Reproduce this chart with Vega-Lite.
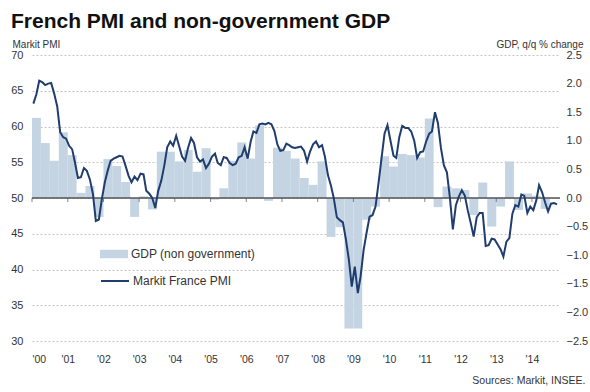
{
  "$schema": "https://vega.github.io/schema/vega-lite/v6.json",
  "width": 528,
  "height": 286,
  "autosize": {"type": "none"},
  "padding": {"left": 32, "top": 55, "right": 30, "bottom": 51},
  "background": "white",
  "config": {
    "font": "Liberation Sans",
    "view": {"stroke": null},
    "axis": {"labelColor": "#333333", "titleColor": "#333333", "titleFontWeight": "normal", "labelFont": "Liberation Sans", "titleFont": "Liberation Sans"},
    "legend": {"labelFont": "Liberation Sans"}
  },
  "title": {
    "text": "French PMI and non-government GDP",
    "anchor": "start",
    "frame": "group",
    "dx": -21,
    "offset": -14,
    "baseline": "bottom",
    "fontSize": 21,
    "fontWeight": "bold",
    "color": "#111111",
    "font": "Liberation Sans"
  },
  "datasets": {
    "gdp": [
      {"date": "2000-01-01", "end": "2000-04-01", "gdp": 1.40},
      {"date": "2000-04-01", "end": "2000-07-01", "gdp": 0.96},
      {"date": "2000-07-01", "end": "2000-10-01", "gdp": 0.65},
      {"date": "2000-10-01", "end": "2001-01-01", "gdp": 1.15},
      {"date": "2001-01-01", "end": "2001-04-01", "gdp": 0.75},
      {"date": "2001-04-01", "end": "2001-07-01", "gdp": 0.09},
      {"date": "2001-07-01", "end": "2001-10-01", "gdp": 0.21},
      {"date": "2001-10-01", "end": "2002-01-01", "gdp": -0.33},
      {"date": "2002-01-01", "end": "2002-04-01", "gdp": 0.68},
      {"date": "2002-04-01", "end": "2002-07-01", "gdp": 0.56},
      {"date": "2002-07-01", "end": "2002-10-01", "gdp": 0.28},
      {"date": "2002-10-01", "end": "2003-01-01", "gdp": -0.33},
      {"date": "2003-01-01", "end": "2003-04-01", "gdp": 0.03},
      {"date": "2003-04-01", "end": "2003-07-01", "gdp": -0.20},
      {"date": "2003-07-01", "end": "2003-10-01", "gdp": 0.81},
      {"date": "2003-10-01", "end": "2004-01-01", "gdp": 0.81},
      {"date": "2004-01-01", "end": "2004-04-01", "gdp": 0.64},
      {"date": "2004-04-01", "end": "2004-07-01", "gdp": 0.84},
      {"date": "2004-07-01", "end": "2004-10-01", "gdp": 0.46},
      {"date": "2004-10-01", "end": "2005-01-01", "gdp": 0.87},
      {"date": "2005-01-01", "end": "2005-04-01", "gdp": -0.03},
      {"date": "2005-04-01", "end": "2005-07-01", "gdp": 0.17},
      {"date": "2005-07-01", "end": "2005-10-01", "gdp": 0.65},
      {"date": "2005-10-01", "end": "2006-01-01", "gdp": 0.97},
      {"date": "2006-01-01", "end": "2006-04-01", "gdp": 0.69},
      {"date": "2006-04-01", "end": "2006-07-01", "gdp": 1.27},
      {"date": "2006-07-01", "end": "2006-10-01", "gdp": -0.05},
      {"date": "2006-10-01", "end": "2007-01-01", "gdp": 0.88},
      {"date": "2007-01-01", "end": "2007-04-01", "gdp": 0.82},
      {"date": "2007-04-01", "end": "2007-07-01", "gdp": 0.69},
      {"date": "2007-07-01", "end": "2007-10-01", "gdp": 0.35},
      {"date": "2007-10-01", "end": "2008-01-01", "gdp": 0.23},
      {"date": "2008-01-01", "end": "2008-04-01", "gdp": 0.64},
      {"date": "2008-04-01", "end": "2008-07-01", "gdp": -0.68},
      {"date": "2008-07-01", "end": "2008-10-01", "gdp": -0.51},
      {"date": "2008-10-01", "end": "2009-01-01", "gdp": -2.28},
      {"date": "2009-01-01", "end": "2009-04-01", "gdp": -2.28},
      {"date": "2009-04-01", "end": "2009-07-01", "gdp": -0.38},
      {"date": "2009-07-01", "end": "2009-10-01", "gdp": -0.15},
      {"date": "2009-10-01", "end": "2010-01-01", "gdp": 0.73},
      {"date": "2010-01-01", "end": "2010-04-01", "gdp": 0.55},
      {"date": "2010-04-01", "end": "2010-07-01", "gdp": 0.77},
      {"date": "2010-07-01", "end": "2010-10-01", "gdp": 0.75},
      {"date": "2010-10-01", "end": "2011-01-01", "gdp": 0.71},
      {"date": "2011-01-01", "end": "2011-04-01", "gdp": 1.39},
      {"date": "2011-04-01", "end": "2011-07-01", "gdp": -0.16},
      {"date": "2011-07-01", "end": "2011-10-01", "gdp": 0.20},
      {"date": "2011-10-01", "end": "2012-01-01", "gdp": 0.17},
      {"date": "2012-01-01", "end": "2012-04-01", "gdp": 0.14},
      {"date": "2012-04-01", "end": "2012-07-01", "gdp": -0.30},
      {"date": "2012-07-01", "end": "2012-10-01", "gdp": 0.27},
      {"date": "2012-10-01", "end": "2013-01-01", "gdp": -0.50},
      {"date": "2013-01-01", "end": "2013-04-01", "gdp": -0.15},
      {"date": "2013-04-01", "end": "2013-07-01", "gdp": 0.64},
      {"date": "2013-07-01", "end": "2013-10-01", "gdp": -0.21},
      {"date": "2013-10-01", "end": "2014-01-01", "gdp": 0.08},
      {"date": "2014-01-01", "end": "2014-04-01", "gdp": 0.04},
      {"date": "2014-04-01", "end": "2014-07-01", "gdp": -0.19}
    ],
    "pmi": [
      {"date": "2000-01-15", "pmi": 63.2}, {"date": "2000-02-15", "pmi": 64.5}, {"date": "2000-03-15", "pmi": 66.4}, {"date": "2000-04-15", "pmi": 66.2},
      {"date": "2000-05-15", "pmi": 65.8}, {"date": "2000-06-15", "pmi": 66.0}, {"date": "2000-07-15", "pmi": 66.1}, {"date": "2000-08-15", "pmi": 64.6},
      {"date": "2000-09-15", "pmi": 62.8}, {"date": "2000-10-15", "pmi": 59.2}, {"date": "2000-11-15", "pmi": 58.5}, {"date": "2000-12-15", "pmi": 58.3},
      {"date": "2001-01-15", "pmi": 57.3}, {"date": "2001-02-15", "pmi": 56.8}, {"date": "2001-03-15", "pmi": 55.0}, {"date": "2001-04-15", "pmi": 52.8},
      {"date": "2001-05-15", "pmi": 52.9}, {"date": "2001-06-15", "pmi": 54.2}, {"date": "2001-07-15", "pmi": 53.8}, {"date": "2001-08-15", "pmi": 52.6},
      {"date": "2001-09-15", "pmi": 50.6}, {"date": "2001-10-15", "pmi": 46.8}, {"date": "2001-11-15", "pmi": 47.0}, {"date": "2001-12-15", "pmi": 49.8},
      {"date": "2002-01-15", "pmi": 52.2}, {"date": "2002-02-15", "pmi": 53.9}, {"date": "2002-03-15", "pmi": 55.2}, {"date": "2002-04-15", "pmi": 55.5},
      {"date": "2002-05-15", "pmi": 55.7}, {"date": "2002-06-15", "pmi": 55.9}, {"date": "2002-07-15", "pmi": 55.8}, {"date": "2002-08-15", "pmi": 54.5},
      {"date": "2002-09-15", "pmi": 53.1}, {"date": "2002-10-15", "pmi": 52.2}, {"date": "2002-11-15", "pmi": 53.0}, {"date": "2002-12-15", "pmi": 52.5},
      {"date": "2003-01-15", "pmi": 53.4}, {"date": "2003-02-15", "pmi": 53.3}, {"date": "2003-03-15", "pmi": 51.0}, {"date": "2003-04-15", "pmi": 50.6},
      {"date": "2003-05-15", "pmi": 50.0}, {"date": "2003-06-15", "pmi": 48.6}, {"date": "2003-07-15", "pmi": 51.0}, {"date": "2003-08-15", "pmi": 52.4},
      {"date": "2003-09-15", "pmi": 54.5}, {"date": "2003-10-15", "pmi": 57.1}, {"date": "2003-11-15", "pmi": 57.9}, {"date": "2003-12-15", "pmi": 57.3},
      {"date": "2004-01-15", "pmi": 58.7}, {"date": "2004-02-15", "pmi": 57.2}, {"date": "2004-03-15", "pmi": 55.8}, {"date": "2004-04-15", "pmi": 55.2},
      {"date": "2004-05-15", "pmi": 57.0}, {"date": "2004-06-15", "pmi": 58.4}, {"date": "2004-07-15", "pmi": 57.7}, {"date": "2004-08-15", "pmi": 55.7},
      {"date": "2004-09-15", "pmi": 55.1}, {"date": "2004-10-15", "pmi": 55.4}, {"date": "2004-11-15", "pmi": 54.2}, {"date": "2004-12-15", "pmi": 54.8},
      {"date": "2005-01-15", "pmi": 55.8}, {"date": "2005-02-15", "pmi": 56.2}, {"date": "2005-03-15", "pmi": 54.9}, {"date": "2005-04-15", "pmi": 54.6},
      {"date": "2005-05-15", "pmi": 55.7}, {"date": "2005-06-15", "pmi": 55.6}, {"date": "2005-07-15", "pmi": 54.9}, {"date": "2005-08-15", "pmi": 54.6},
      {"date": "2005-09-15", "pmi": 54.8}, {"date": "2005-10-15", "pmi": 55.7}, {"date": "2005-11-15", "pmi": 55.9}, {"date": "2005-12-15", "pmi": 57.1},
      {"date": "2006-01-15", "pmi": 55.5}, {"date": "2006-02-15", "pmi": 57.9}, {"date": "2006-03-15", "pmi": 59.3}, {"date": "2006-04-15", "pmi": 59.1},
      {"date": "2006-05-15", "pmi": 60.3}, {"date": "2006-06-15", "pmi": 60.4}, {"date": "2006-07-15", "pmi": 60.3}, {"date": "2006-08-15", "pmi": 60.5},
      {"date": "2006-09-15", "pmi": 60.3}, {"date": "2006-10-15", "pmi": 59.4}, {"date": "2006-11-15", "pmi": 57.5}, {"date": "2006-12-15", "pmi": 56.6},
      {"date": "2007-01-15", "pmi": 56.7}, {"date": "2007-02-15", "pmi": 57.6}, {"date": "2007-03-15", "pmi": 57.4}, {"date": "2007-04-15", "pmi": 57.1},
      {"date": "2007-05-15", "pmi": 57.0}, {"date": "2007-06-15", "pmi": 57.1}, {"date": "2007-07-15", "pmi": 57.2}, {"date": "2007-08-15", "pmi": 56.6},
      {"date": "2007-09-15", "pmi": 55.1}, {"date": "2007-10-15", "pmi": 56.5}, {"date": "2007-11-15", "pmi": 57.5}, {"date": "2007-12-15", "pmi": 57.9},
      {"date": "2008-01-15", "pmi": 57.1}, {"date": "2008-02-15", "pmi": 57.4}, {"date": "2008-03-15", "pmi": 55.8}, {"date": "2008-04-15", "pmi": 53.2},
      {"date": "2008-05-15", "pmi": 51.8}, {"date": "2008-06-15", "pmi": 49.9}, {"date": "2008-07-15", "pmi": 47.3}, {"date": "2008-08-15", "pmi": 46.9},
      {"date": "2008-09-15", "pmi": 46.6}, {"date": "2008-10-15", "pmi": 44.3}, {"date": "2008-11-15", "pmi": 41.4}, {"date": "2008-12-15", "pmi": 37.6},
      {"date": "2009-01-15", "pmi": 40.4}, {"date": "2009-02-15", "pmi": 36.7}, {"date": "2009-03-15", "pmi": 39.0}, {"date": "2009-04-15", "pmi": 42.7},
      {"date": "2009-05-15", "pmi": 45.1}, {"date": "2009-06-15", "pmi": 47.4}, {"date": "2009-07-15", "pmi": 47.6}, {"date": "2009-08-15", "pmi": 48.8},
      {"date": "2009-09-15", "pmi": 52.1}, {"date": "2009-10-15", "pmi": 55.5}, {"date": "2009-11-15", "pmi": 59.0}, {"date": "2009-12-15", "pmi": 60.2},
      {"date": "2010-01-15", "pmi": 58.0}, {"date": "2010-02-15", "pmi": 55.9}, {"date": "2010-03-15", "pmi": 55.6}, {"date": "2010-04-15", "pmi": 58.5},
      {"date": "2010-05-15", "pmi": 60.1}, {"date": "2010-06-15", "pmi": 59.8}, {"date": "2010-07-15", "pmi": 59.8}, {"date": "2010-08-15", "pmi": 59.3},
      {"date": "2010-09-15", "pmi": 58.0}, {"date": "2010-10-15", "pmi": 55.6}, {"date": "2010-11-15", "pmi": 56.4}, {"date": "2010-12-15", "pmi": 56.5},
      {"date": "2011-01-15", "pmi": 57.9}, {"date": "2011-02-15", "pmi": 59.0}, {"date": "2011-03-15", "pmi": 59.3}, {"date": "2011-04-15", "pmi": 62.0},
      {"date": "2011-05-15", "pmi": 60.5}, {"date": "2011-06-15", "pmi": 57.0}, {"date": "2011-07-15", "pmi": 54.6}, {"date": "2011-08-15", "pmi": 53.6},
      {"date": "2011-09-15", "pmi": 50.0}, {"date": "2011-10-15", "pmi": 45.6}, {"date": "2011-11-15", "pmi": 49.0}, {"date": "2011-12-15", "pmi": 50.2},
      {"date": "2012-01-15", "pmi": 51.1}, {"date": "2012-02-15", "pmi": 50.3}, {"date": "2012-03-15", "pmi": 48.3}, {"date": "2012-04-15", "pmi": 46.5},
      {"date": "2012-05-15", "pmi": 44.6}, {"date": "2012-06-15", "pmi": 47.3}, {"date": "2012-07-15", "pmi": 47.9}, {"date": "2012-08-15", "pmi": 47.9},
      {"date": "2012-09-15", "pmi": 43.3}, {"date": "2012-10-15", "pmi": 43.4}, {"date": "2012-11-15", "pmi": 44.3}, {"date": "2012-12-15", "pmi": 44.2},
      {"date": "2013-01-15", "pmi": 43.5}, {"date": "2013-02-15", "pmi": 42.8}, {"date": "2013-03-15", "pmi": 41.8}, {"date": "2013-04-15", "pmi": 43.9},
      {"date": "2013-05-15", "pmi": 44.4}, {"date": "2013-06-15", "pmi": 47.8}, {"date": "2013-07-15", "pmi": 49.0}, {"date": "2013-08-15", "pmi": 48.8},
      {"date": "2013-09-15", "pmi": 50.5}, {"date": "2013-10-15", "pmi": 50.3}, {"date": "2013-11-15", "pmi": 47.9}, {"date": "2013-12-15", "pmi": 48.8},
      {"date": "2014-01-15", "pmi": 48.3}, {"date": "2014-02-15", "pmi": 49.7}, {"date": "2014-03-15", "pmi": 51.8}, {"date": "2014-04-15", "pmi": 50.8},
      {"date": "2014-05-15", "pmi": 49.4}, {"date": "2014-06-15", "pmi": 48.1}, {"date": "2014-07-15", "pmi": 49.2}, {"date": "2014-08-15", "pmi": 49.3},
      {"date": "2014-09-15", "pmi": 49.1}
    ],
    "years": [
      {"date": "2000-01-01"}, {"date": "2001-01-01"}, {"date": "2002-01-01"}, {"date": "2003-01-01"}, {"date": "2004-01-01"},
      {"date": "2005-01-01"}, {"date": "2006-01-01"}, {"date": "2007-01-01"}, {"date": "2008-01-01"}, {"date": "2009-01-01"},
      {"date": "2010-01-01"}, {"date": "2011-01-01"}, {"date": "2012-01-01"}, {"date": "2013-01-01"}, {"date": "2014-01-01"}
    ]
  },
  "layer": [
    {
      "data": {"name": "gdp"},
      "mark": {"type": "bar", "strokeWidth": 0},
      "encoding": {
        "x": {
          "field": "date",
          "type": "temporal",
          "scale": {"type": "utc", "domain": [{"year": 2000, "month": 1, "date": 1, "utc": true}, {"year": 2014, "month": 10, "date": 15, "utc": true}]},
          "axis": {
            "tickCount": {"interval": "year", "step": 1},
            "labelExpr": "\"'\" + utcFormat(datum.value, '%y')",
            "domain": false,
            "ticks": false,
            "grid": false,
            "labelOverlap": false,
            "labelPadding": 13,
            "labelFontSize": 10.5,
            "title": "Sources: Markit, INSEE.",
            "titleX": 553,
            "titleY": 42,
            "titleAlign": "right",
            "titleBaseline": "alphabetic",
            "titleFontSize": 10.5
          }
        },
        "x2": {"field": "end"},
        "y": {
          "field": "gdp",
          "type": "quantitative",
          "scale": {"domain": [-2.5, 2.5], "nice": false},
          "axis": {
            "orient": "right",
            "values": [-2.5, -2, -1.5, -1, -0.5, 0, 0.5, 1, 1.5, 2, 2.5],
            "format": ".1f",
            "grid": false,
            "domain": false,
            "ticks": false,
            "labelOverlap": false,
            "labelPadding": 6,
            "labelFontSize": 11,
            "title": "GDP,  q/q % change",
            "titleAngle": 0,
            "titleAlign": "right",
            "titleBaseline": "alphabetic",
            "titleX": 23,
            "titleY": -8,
            "titleFontSize": 10
          }
        },
        "y2": {"datum": 0},
        "fill": {
          "datum": "GDP (non government)",
          "type": "nominal",
          "scale": {"range": ["#c4d4e3"]},
          "legend": {
            "orient": "none",
            "legendX": 68,
            "legendY": 185,
            "title": null,
            "symbolType": "M-1,-0.3H1V0.3H-1Z",
            "symbolSize": 784,
            "symbolStrokeWidth": 0,
            "labelFontSize": 12,
            "labelColor": "#333333",
            "labelOffset": 3,
            "padding": 0
          }
        }
      }
    },
    {
      "data": {"values": [{}]},
      "mark": {"type": "rule", "color": "#555555", "strokeWidth": 1.5},
      "encoding": {
        "y": {"datum": 0, "type": "quantitative", "scale": {"domain": [-2.5, 2.5], "nice": false}, "axis": null}
      }
    },
    {
      "data": {"name": "years"},
      "mark": {"type": "tick", "orient": "vertical", "color": "#555555", "thickness": 1, "size": 4},
      "encoding": {
        "x": {"field": "date", "type": "temporal"},
        "y": {"datum": -0.035, "type": "quantitative", "scale": {"domain": [-2.5, 2.5], "nice": false}, "axis": null}
      }
    },
    {
      "data": {"name": "pmi"},
      "mark": {"type": "line", "strokeWidth": 2},
      "encoding": {
        "x": {"field": "date", "type": "temporal"},
        "y": {
          "field": "pmi",
          "type": "quantitative",
          "scale": {"domain": [30, 70], "nice": false, "zero": false},
          "axis": {
            "orient": "left",
            "values": [30, 35, 40, 45, 50, 55, 60, 65, 70],
            "grid": true,
            "gridColor": "#c4c4c4",
            "gridDash": [2, 2],
            "domain": false,
            "ticks": false,
            "labelOverlap": false,
            "labelPadding": 9,
            "labelFontSize": 11,
            "title": "Markit PMI",
            "titleAngle": 0,
            "titleAlign": "left",
            "titleBaseline": "alphabetic",
            "titleX": -20,
            "titleY": -8,
            "titleFontSize": 10
          }
        },
        "stroke": {
          "datum": "Markit France PMI",
          "type": "nominal",
          "scale": {"range": ["#1f3d6e"]},
          "legend": {
            "orient": "none",
            "legendX": 68,
            "legendY": 211,
            "title": null,
            "symbolType": "M-1,0H1",
            "symbolSize": 784,
            "symbolStrokeWidth": 2,
            "labelFontSize": 12,
            "labelColor": "#333333",
            "labelOffset": 3,
            "padding": 0
          }
        }
      }
    }
  ],
  "resolve": {"scale": {"y": "independent"}}
}
